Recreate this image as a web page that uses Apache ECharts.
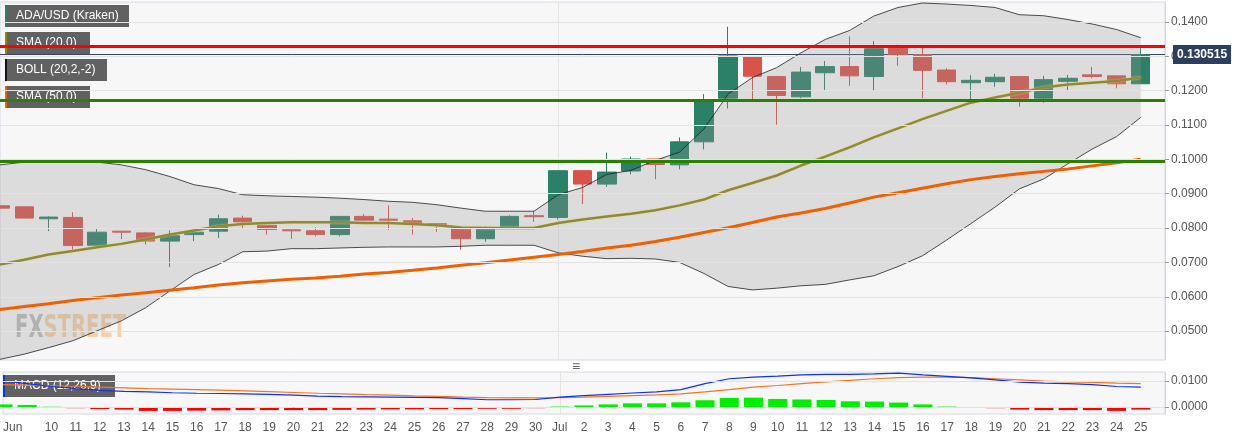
<!DOCTYPE html>
<html>
<head>
<meta charset="utf-8">
<script src="https://cdn.jsdelivr.net/npm/echarts@6/dist/echarts.min.js"></script>
<style>
  html, body { margin: 0; padding: 0; background: #fff; }
  #chart { width: 1244px; height: 438px; }
</style>
</head>
<body>
<div id="chart"></div>
<script>
// Jun 8 .. Jul 26
const days = [];
for (let d = 8; d <= 30; d++) days.push("Jun " + d);
for (let d = 1; d <= 26; d++) days.push("Jul " + d);

// [open, close, low, high]
const candles = [
  [0.0865, 0.0858, 0.0856, 0.0866],
  [0.0862, 0.0829, 0.0828, 0.0863],
  [0.0827, 0.0832, 0.0791, 0.0834],
  [0.0831, 0.0749, 0.0737, 0.0846],
  [0.0750, 0.0788, 0.0750, 0.0798],
  [0.0791, 0.0788, 0.0768, 0.0791],
  [0.0786, 0.0762, 0.0752, 0.0789],
  [0.0762, 0.0778, 0.0687, 0.0793],
  [0.0781, 0.0788, 0.0762, 0.0797],
  [0.0791, 0.0827, 0.0771, 0.0839],
  [0.0829, 0.0818, 0.0797, 0.0836],
  [0.0808, 0.0796, 0.0781, 0.0809],
  [0.0795, 0.0792, 0.0768, 0.0795],
  [0.0792, 0.0781, 0.0776, 0.0802],
  [0.0781, 0.0834, 0.0776, 0.0834],
  [0.0834, 0.0823, 0.0820, 0.0841],
  [0.0826, 0.0823, 0.0795, 0.0866],
  [0.0821, 0.0813, 0.0781, 0.0829],
  [0.0813, 0.0808, 0.0789, 0.0815],
  [0.0798, 0.0769, 0.0737, 0.0798],
  [0.0769, 0.0802, 0.0760, 0.0805],
  [0.0802, 0.0834, 0.0802, 0.0837],
  [0.0836, 0.0833, 0.0818, 0.0849],
  [0.0831, 0.0967, 0.0825, 0.0967],
  [0.0967, 0.0928, 0.0870, 0.0967],
  [0.0928, 0.0963, 0.0920, 0.1020],
  [0.0966, 0.1001, 0.0956, 0.1008],
  [0.1001, 0.0985, 0.0942, 0.1001],
  [0.0984, 0.1051, 0.0971, 0.1064],
  [0.1051, 0.1170, 0.1029, 0.1190],
  [0.1178, 0.1301, 0.1148, 0.1386],
  [0.1298, 0.1242, 0.1175, 0.1298],
  [0.1241, 0.1186, 0.1101, 0.1243],
  [0.1182, 0.1254, 0.1178, 0.1269],
  [0.1252, 0.1270, 0.1202, 0.1286],
  [0.1270, 0.1243, 0.1214, 0.1358],
  [0.1241, 0.1322, 0.1199, 0.1344],
  [0.1325, 0.1305, 0.1272, 0.1334],
  [0.1305, 0.1259, 0.1178, 0.1325],
  [0.1260, 0.1226, 0.1218, 0.1265],
  [0.1223, 0.1230, 0.1175, 0.1245],
  [0.1226, 0.1239, 0.1211, 0.1249],
  [0.1241, 0.1178, 0.1153, 0.1243],
  [0.1178, 0.1232, 0.1165, 0.1243],
  [0.1227, 0.1236, 0.1201, 0.1246],
  [0.1246, 0.1241, 0.1236, 0.1269],
  [0.1243, 0.1220, 0.1207, 0.1243],
  [0.1220, 0.1305, 0.1220, 0.1324]
];

const bollUpper = [0.0984, 0.0992, 0.0996, 0.0996, 0.0992, 0.0984, 0.0970, 0.0950, 0.0926, 0.0915,
  0.0897, 0.0894, 0.0892, 0.0890, 0.0887, 0.0883, 0.0878, 0.0875, 0.0868, 0.0858, 0.0849, 0.0849, 0.0849,
  0.0897, 0.0918, 0.0956, 0.0968, 0.0997, 0.1021, 0.1088, 0.1190, 0.1238, 0.1267, 0.1310, 0.1349, 0.1375,
  0.1417, 0.1442, 0.1455, 0.1452, 0.1448, 0.1442, 0.1421, 0.1418, 0.1407, 0.1394, 0.1378, 0.1354];
const bollLower = [0.0418, 0.0433, 0.0452, 0.0472, 0.0501, 0.0530, 0.0568, 0.0617, 0.0665, 0.0694,
  0.0731, 0.0733, 0.0740, 0.0740, 0.0742, 0.0744, 0.0745, 0.0745, 0.0745, 0.0747, 0.0750, 0.0750, 0.0750,
  0.0728, 0.0718, 0.0711, 0.0712, 0.0710, 0.0700, 0.0668, 0.0630, 0.0620, 0.0625, 0.0632, 0.0636, 0.0649,
  0.0661, 0.0688, 0.0719, 0.0765, 0.0813, 0.0861, 0.0914, 0.0943, 0.0987, 0.1030, 0.1066, 0.1122];
const sma20 = [0.0694, 0.0708, 0.0723, 0.0733, 0.0744, 0.0754, 0.0767, 0.0781, 0.0793, 0.0805,
  0.0812, 0.0815, 0.0817, 0.0817, 0.0817, 0.0815, 0.0815, 0.0812, 0.0808, 0.0802, 0.0800, 0.0800, 0.0800,
  0.0815, 0.0825, 0.0834, 0.0842, 0.0852, 0.0866, 0.0883, 0.0910, 0.0931, 0.0953, 0.0982, 0.1008, 0.1035,
  0.1064, 0.1090, 0.1117, 0.1141, 0.1165, 0.1180, 0.1194, 0.1209, 0.1218, 0.1223, 0.1228, 0.1238];
const sma50 = [0.0563, 0.0572, 0.0580, 0.0589, 0.0597, 0.0605, 0.0612, 0.0619, 0.0626, 0.0634,
  0.0641, 0.0646, 0.0651, 0.0655, 0.0660, 0.0666, 0.0671, 0.0677, 0.0684, 0.0692, 0.0699, 0.0707, 0.0715,
  0.0723, 0.0732, 0.0742, 0.0750, 0.0761, 0.0773, 0.0787, 0.0801, 0.0816, 0.0832, 0.0844, 0.0857, 0.0873,
  0.0890, 0.0903, 0.0916, 0.0929, 0.0941, 0.0950, 0.0958, 0.0965, 0.0972, 0.0981, 0.0990, 0.1000];

const macdLine = [0.0100, 0.0090, 0.0079, 0.0071, 0.0064, 0.0060, 0.0058, 0.0055, 0.0053, 0.0052,
  0.0051, 0.0049, 0.0046, 0.0042, 0.0040, 0.0039, 0.0038, 0.0037, 0.0036, 0.0032, 0.0028, 0.0028, 0.0029,
  0.0038, 0.0044, 0.0049, 0.0054, 0.0058, 0.0067, 0.0090, 0.0109, 0.0115, 0.0119, 0.0124, 0.0126, 0.0126,
  0.0128, 0.0131, 0.0124, 0.0118, 0.0112, 0.0105, 0.0096, 0.0092, 0.0090, 0.0086, 0.0079, 0.0077];
const signalLine = [0.0086, 0.0084, 0.0082, 0.0080, 0.0077, 0.0074, 0.0071, 0.0069, 0.0067, 0.0065,
  0.0062, 0.0059, 0.0056, 0.0053, 0.0051, 0.0048, 0.0046, 0.0043, 0.0041, 0.0038, 0.0036, 0.0035, 0.0035,
  0.0036, 0.0038, 0.0041, 0.0044, 0.0047, 0.0051, 0.0058, 0.0067, 0.0077, 0.0083, 0.0090, 0.0097, 0.0103,
  0.0109, 0.0113, 0.0115, 0.0115, 0.0113, 0.0109, 0.0105, 0.0100, 0.0097, 0.0095, 0.0092, 0.0090];
const histogram = [0.0010, 0.0008, 0.0002, -0.0005, -0.0008, -0.0010, -0.0015, -0.0015, -0.0014, -0.0013,
  -0.0012, -0.0012, -0.0012, -0.0012, -0.0011, -0.0010, -0.0009, -0.0009, -0.0008, -0.0008, -0.0007, -0.0007, -0.0005,
  0.0003, 0.0006, 0.0010, 0.0014, 0.0014, 0.0018, 0.0026, 0.0035, 0.0036, 0.0031, 0.0029, 0.0027, 0.0022,
  0.0021, 0.0017, 0.0010, 0.0003, -0.0002, -0.0005, -0.0010, -0.0012, -0.0012, -0.0012, -0.0015, -0.0010];

const priceTicks = [0.05, 0.06, 0.07, 0.08, 0.09, 0.10, 0.11, 0.12, 0.13, 0.14];
const macdTicks = [0, 0.01];
const lastPrice = 0.130515;
const resistance = 0.1330;
const supports = [0.1173, 0.0994];

const bollWidth = bollUpper.map((u, i) => u - bollLower[i]);

const chart = echarts.init(document.getElementById("chart"));
const font = "Arial, 'Liberation Sans', sans-serif";

function legendBox(label, stripColor, x, y, w) {
  return {
    type: "group", left: x, top: y, z: 100,
    children: [
      { type: "rect", shape: { x: 0, y: 0, width: w, height: 22 }, style: { fill: "rgba(80,80,80,0.9)" } },
      { type: "rect", shape: { x: 0, y: 0, width: 2, height: 22 }, style: { fill: stripColor } },
      { type: "text", x: 11, y: 5, style: { text: label, fill: "#fff", font: "12px " + font } }
    ]
  };
}

function gridLines(values) {
  return values.map(v => ({ yAxis: v, lineStyle: { color: "#e2e2e2", width: 1, type: "solid" } }));
}

chart.setOption({
  backgroundColor: "#ffffff",
  animation: false,
  grid: [
    { left: 0, right: 79, top: 2, height: 358, show: true, backgroundColor: "#f7f7f7", borderColor: "#d3d8e6", borderWidth: 1 },
    { left: 0, right: 79, top: 372, height: 42, show: true, backgroundColor: "#f7f7f7", borderColor: "#d3d8e6", borderWidth: 1 }
  ],
  xAxis: [
    { type: "category", gridIndex: 0, data: days, boundaryGap: false,
      axisLine: { show: false }, axisTick: { show: false }, axisLabel: { show: false },
      splitLine: { show: true, interval: (i) => i === 23, lineStyle: { color: "#e4e4e4" } } },
    { type: "category", gridIndex: 1, data: days, boundaryGap: false,
      axisLine: { show: false }, axisTick: { show: false },
      splitLine: { show: true, interval: (i) => i === 23, lineStyle: { color: "#e4e4e4" } },
      axisLabel: { interval: 0, color: "#555", fontSize: 12, fontFamily: font, margin: 8,
        alignMinLabel: "left",
        formatter: (v, i) => {
          if (i === 0) return "Jun";
          if (i === 1 || i === days.length - 1) return "";
          if (v === "Jul 1") return "Jul";
          return v.split(" ")[1];
        } } }
  ],
  yAxis: [
    { type: "value", gridIndex: 0, position: "right", min: 0.0416, max: 0.1458,
      axisLine: { show: true, lineStyle: { color: "#d3d8e6" } },
      axisTick: { show: true, length: 4, customValues: priceTicks, lineStyle: { color: "#999" } },
      axisLabel: { color: "#555", fontSize: 12, fontFamily: font, margin: 6, customValues: priceTicks,
        formatter: (v) => v.toFixed(4) },
      splitLine: { show: false } },
    { type: "value", gridIndex: 1, position: "right", min: -0.0027, max: 0.0135,
      axisLine: { show: true, lineStyle: { color: "#d3d8e6" } },
      axisTick: { show: true, length: 4, customValues: macdTicks, lineStyle: { color: "#999" } },
      axisLabel: { color: "#555", fontSize: 12, fontFamily: font, margin: 6, customValues: macdTicks,
        formatter: (v) => v.toFixed(4) },
      splitLine: { show: false } }
  ],
  series: [
    { type: "line", xAxisIndex: 0, yAxisIndex: 0, data: [], z: 0,
      markLine: { symbol: "none", silent: true, precision: 6, label: { show: false }, data: gridLines(priceTicks) } },
    { type: "line", xAxisIndex: 1, yAxisIndex: 1, data: [], z: 0,
      markLine: { symbol: "none", silent: true, precision: 6, label: { show: false }, data: gridLines(macdTicks) } },
    { type: "candlestick", xAxisIndex: 0, yAxisIndex: 0, data: candles, barWidth: 19, z: 2,
      itemStyle: { color: "#2b8068", color0: "#d9534a", borderColor: "#2b8068", borderColor0: "#d9534a", borderWidth: 1 },
      markLine: { symbol: "none", silent: true, precision: 6, z: 1,
        lineStyle: { color: "#34466a", width: 1, type: "solid" },
        label: { position: "end", formatter: lastPrice.toFixed(6), color: "#fff", fontWeight: "bold",
          fontSize: 12, fontFamily: font, backgroundColor: "#2d3f5e", padding: [4, 4, 3, 4], distance: 8 },
        data: [{ yAxis: lastPrice }] } },
    { type: "line", xAxisIndex: 0, yAxisIndex: 0, data: bollLower, stack: "boll",
      symbol: "none", lineStyle: { color: "#222", width: 0.8 }, z: 3 },
    { type: "line", xAxisIndex: 0, yAxisIndex: 0, data: bollWidth, stack: "boll",
      symbol: "none", lineStyle: { color: "#222", width: 0.8 }, areaStyle: { color: "rgba(150,150,150,0.4)" }, z: 3 },
    { type: "line", xAxisIndex: 0, yAxisIndex: 0, data: sma20, symbol: "none", z: 4,
      lineStyle: { color: "#8f8a3a", width: 2.5, shadowColor: "rgba(230,220,120,0.8)", shadowBlur: 2 } },
    { type: "line", xAxisIndex: 0, yAxisIndex: 0, data: sma50, symbol: "none", z: 4,
      lineStyle: { color: "#f06000", width: 3 } },
    { type: "line", xAxisIndex: 0, yAxisIndex: 0, data: [], z: 5,
      markLine: { symbol: "none", silent: true, precision: 6, label: { show: false },
        data: [
          { yAxis: resistance, lineStyle: { color: "#ff0000", width: 3, type: "solid" } },
          { yAxis: supports[0], lineStyle: { color: "#2a8000", width: 3, type: "solid" } },
          { yAxis: supports[1], lineStyle: { color: "#2a8000", width: 3, type: "solid" } }
        ] } },
    { type: "bar", xAxisIndex: 1, yAxisIndex: 1, data: histogram, barWidth: 19, z: 2,
      itemStyle: { color: (p) => p.value >= 0 ? (p.value < 0.0005 ? "#7ff07f" : "#00ee00") : (p.value > -0.0006 ? "#f06060" : "#ff0000") } },
    { type: "line", xAxisIndex: 1, yAxisIndex: 1, data: signalLine, symbol: "none", z: 3,
      lineStyle: { color: "#f07820", width: 1.2 } },
    { type: "line", xAxisIndex: 1, yAxisIndex: 1, data: macdLine, symbol: "none", z: 3,
      lineStyle: { color: "#1030f0", width: 1.2 } }
  ],
  graphic: [
    legendBox("ADA/USD (Kraken)", "#2b8068", 5, 5, 124),
    legendBox("SMA (20,0)", "#8f8a00", 5, 32, 85),
    legendBox("BOLL (20,2,-2)", "#111", 5, 59, 102),
    legendBox("SMA (50,0)", "#f06000", 5, 86, 85),
    legendBox("MACD (12,26,9)", "#1030f0", 3, 375, 112),
    { type: "text", left: 15, top: 313, z: 1, scaleX: 0.68,
      style: { rich: {
        a: { fill: "rgba(140,140,140,0.55)", fontSize: 32, fontWeight: "bold", fontFamily: "'DejaVu Sans Condensed', sans-serif" },
        b: { fill: "rgba(240,170,90,0.5)", fontSize: 32, fontWeight: "bold", fontFamily: "'DejaVu Sans Condensed', sans-serif" } },
        text: "{a|FX}{b|STREET}" } },
    { type: "text", left: 572, top: 360, z: 10,
      style: { text: "≡", fill: "#666", font: "14px " + font } }
  ]
});
</script>
</body>
</html>
